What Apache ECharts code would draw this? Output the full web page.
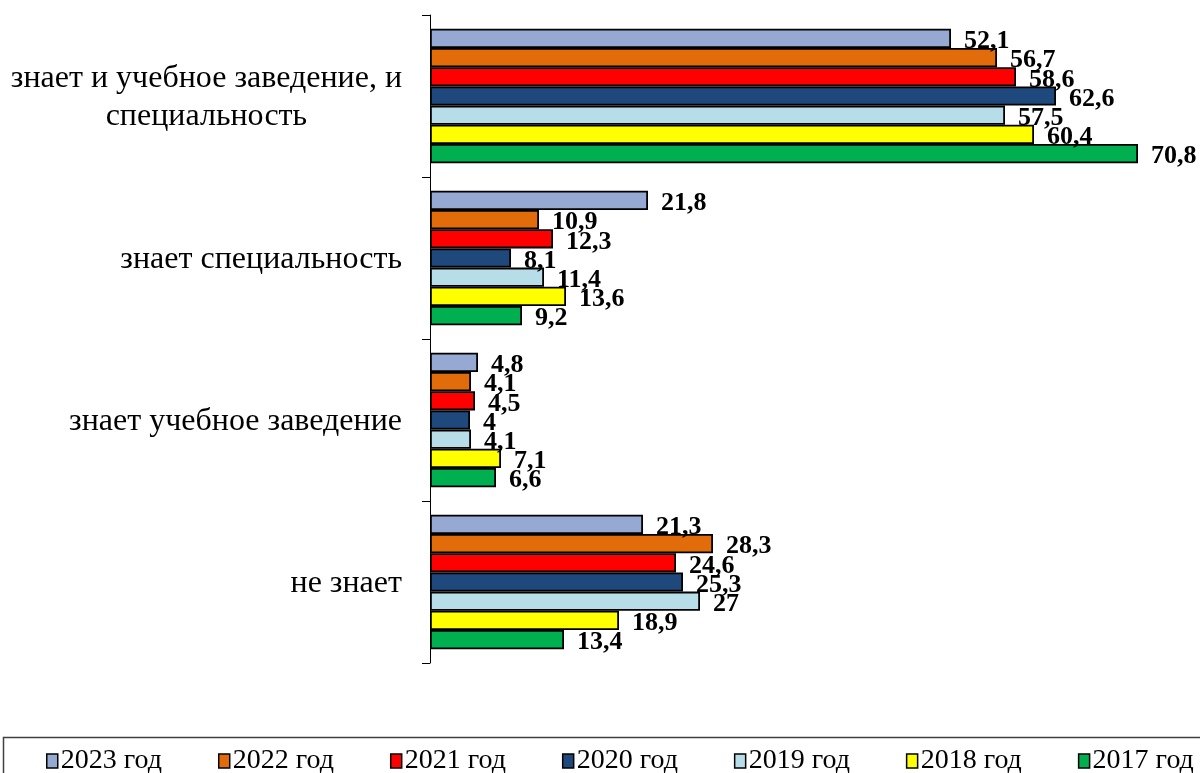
<!DOCTYPE html>
<html>
<head>
<meta charset="utf-8">
<script src="https://cdn.jsdelivr.net/npm/echarts@6/dist/echarts.min.js"></script>
<style>html,body{margin:0;padding:0;background:#fff;}#main{width:1200px;height:773px;}</style>
</head>
<body>
<div id="main"></div>
<script>
const categories = ['знает и учебное заведение, и\nспециальность', 'знает специальность', 'знает учебное заведение', 'не знает'];
const seriesNames = ['2023 год', '2022 год', '2021 год', '2020 год', '2019 год', '2018 год', '2017 год'];
const v2023 = [52.1, 21.8, 4.8, 21.3];
const v2022 = [56.7, 10.9, 4.1, 28.3];
const v2021 = [58.6, 12.3, 4.5, 24.6];
const v2020 = [62.6, 8.1, 4, 25.3];
const v2019 = [57.5, 11.4, 4.1, 27];
const v2018 = [60.4, 13.6, 7.1, 18.9];
const v2017 = [70.8, 9.2, 6.6, 13.4];
const colors = ['#95A9D2', '#E36C0A', '#FF0000', '#1F497D', '#B7DDE8', '#FFFF00', '#00B050'];
const allValues = [v2023, v2022, v2021, v2020, v2019, v2018, v2017];

const FONT = '"Liberation Serif", "Times New Roman", serif';
const chart = echarts.init(document.getElementById('main'));
const series = seriesNames.map((name, i) => ({
  name: name,
  type: 'bar',
  data: allValues[i],
  barWidth: 19.2,
  barGap: '0%',
  itemStyle: { color: colors[i], borderColor: '#000', borderWidth: 1.8 },
  label: {
    show: true,
    position: 'right',
    distance: 13,
    offset: [0, 3],
    fontFamily: FONT,
    fontWeight: 'bold',
    fontSize: 26,
    color: '#000',
    formatter: p => String(p.value).replace('.', ',')
  }
}));

chart.setOption({
  animation: false,
  backgroundColor: '#fff',
  grid: { left: 430, top: 15, width: 770, height: 648, containLabel: false },
  xAxis: { type: 'value', min: 0, max: 77, show: false },
  yAxis: {
    type: 'category',
    inverse: true,
    data: categories,
    axisLine: { show: true, lineStyle: { color: '#000', width: 1 } },
    axisTick: { show: true, length: 8, lineStyle: { color: '#000' } },
    axisLabel: {
      margin: 28,
      formatter: v => v.split('\n').map(s => '{c|' + s + '}').join('\n'),
      rich: { c: { fontFamily: FONT, fontSize: 32, color: '#000', align: 'center', lineHeight: 38, padding: [4, 0, 0, 0] } }
    }
  },
  legend: {
    left: 41,
    top: 742,
    width: 1500,
    icon: 'rect',
    itemWidth: 11,
    itemHeight: 14,
    itemGap: 56,
    itemStyle: { borderColor: '#000', borderWidth: 1.5 },
    textStyle: { fontFamily: FONT, fontSize: 28, color: '#000', padding: [0, 0, 0, -2] },
    data: seriesNames
  },
  graphic: [{
    type: 'rect',
    left: 1, top: 735,
    shape: { width: 1300, height: 100 },
    style: { fill: 'none', stroke: '#404040', lineWidth: 1.5 },
    silent: true
  }],
  series: series
});
</script>
</body>
</html>
